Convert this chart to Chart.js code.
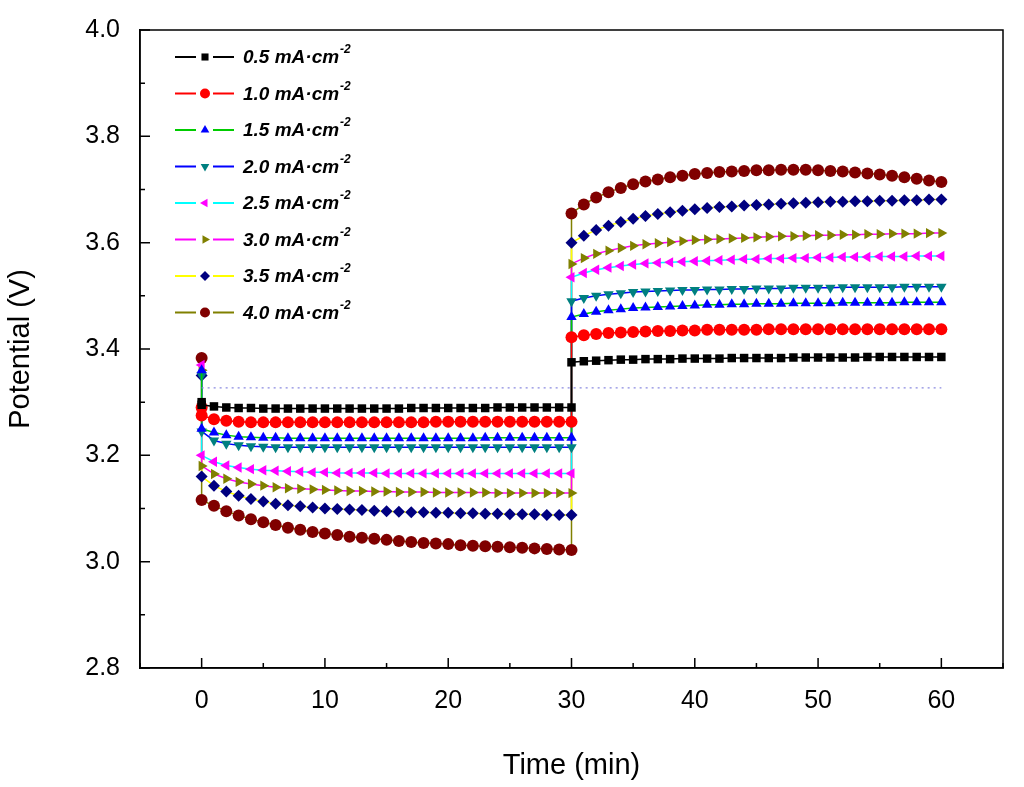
<!DOCTYPE html>
<html>
<head>
<meta charset="utf-8">
<script src="https://cdn.jsdelivr.net/npm/chart.js@4.4.1/dist/chart.umd.min.js"></script>
<style>
  body { margin: 0; background: #fff; }
  #wrap { width: 1024px; height: 787px; }
</style>
</head>
<body>
<div id="wrap"><canvas id="c"></canvas></div>
<script>
// --- datos ---
const labels = ['0.5', '1.0', '1.5', '2.0', '2.5', '3.0', '3.5', '4.0'];
const lineColors = ['#000000', '#ff0000', '#00cc00', '#0000ff', '#00ffff', '#ff00ff', '#ffff00', '#808000'];
const markColors = ['#000000', '#ff0000', '#0000ff', '#008080', '#ff00ff', '#808000', '#000080', '#800000'];
const markStyles = ['rect', 'circle', 'triangle', 'triangle', 'triangle', 'triangle', 'rectRot', 'circle'];
const markRot = [0, 0, 0, 180, -90, 90, 0, 0];

// t = 0..30 min (paso 1 min) y t = 30..60 min
const timeA = [0,1,2,3,4,5,6,7,8,9,10,11,12,13,14,15,16,17,18,19,20,21,22,23,24,25,26,27,28,29,30];
const timeB = [30,31,32,33,34,35,36,37,38,39,40,41,42,43,44,45,46,47,48,49,50,51,52,53,54,55,56,57,58,59,60];
const spike = [3.30, 3.29, 3.36, 3.35, 3.37, 3.36, 3.35, 3.383];

const s05a = [3.295,3.292,3.290,3.289,3.289,3.288,3.288,3.288,3.288,3.288,3.288,3.288,3.288,3.288,3.288,3.288,3.288,3.289,3.289,3.289,3.289,3.289,3.289,3.289,3.290,3.290,3.290,3.290,3.290,3.290,3.290];
const s05b = [3.375,3.377,3.378,3.379,3.380,3.380,3.381,3.381,3.381,3.382,3.382,3.382,3.382,3.383,3.383,3.383,3.383,3.383,3.384,3.384,3.384,3.384,3.384,3.384,3.385,3.385,3.385,3.385,3.385,3.385,3.385];
const s10a = [3.275,3.268,3.265,3.263,3.262,3.262,3.262,3.262,3.262,3.262,3.262,3.262,3.262,3.262,3.262,3.262,3.262,3.262,3.262,3.263,3.263,3.263,3.263,3.263,3.263,3.263,3.263,3.263,3.263,3.263,3.263];
const s10b = [3.422,3.426,3.428,3.430,3.431,3.432,3.433,3.434,3.434,3.435,3.435,3.436,3.436,3.436,3.436,3.436,3.437,3.437,3.437,3.437,3.437,3.437,3.437,3.437,3.437,3.437,3.437,3.437,3.437,3.437,3.437];
const s15a = [3.250,3.243,3.238,3.235,3.234,3.233,3.233,3.232,3.232,3.232,3.232,3.232,3.232,3.232,3.232,3.232,3.232,3.232,3.232,3.232,3.232,3.232,3.232,3.233,3.233,3.233,3.233,3.233,3.233,3.233,3.233];
const s15b = [3.460,3.466,3.470,3.473,3.475,3.477,3.478,3.479,3.480,3.481,3.482,3.483,3.483,3.484,3.484,3.485,3.485,3.485,3.486,3.486,3.486,3.486,3.487,3.487,3.487,3.487,3.487,3.488,3.488,3.488,3.488];
const s20a = [3.245,3.228,3.222,3.219,3.217,3.216,3.215,3.215,3.215,3.215,3.215,3.215,3.215,3.215,3.215,3.215,3.215,3.215,3.215,3.215,3.215,3.215,3.215,3.215,3.215,3.215,3.215,3.215,3.215,3.215,3.215];
const s20b = [3.490,3.496,3.500,3.503,3.505,3.507,3.508,3.509,3.510,3.511,3.511,3.512,3.512,3.513,3.513,3.514,3.514,3.514,3.515,3.515,3.515,3.515,3.516,3.516,3.516,3.516,3.516,3.517,3.517,3.517,3.517];
const s25a = [3.200,3.188,3.181,3.177,3.174,3.172,3.171,3.170,3.169,3.168,3.168,3.167,3.167,3.167,3.167,3.166,3.166,3.166,3.166,3.166,3.166,3.166,3.166,3.166,3.166,3.166,3.166,3.166,3.166,3.166,3.166];
const s25b = [3.535,3.543,3.549,3.553,3.556,3.559,3.561,3.562,3.563,3.564,3.565,3.566,3.567,3.568,3.569,3.569,3.570,3.570,3.571,3.571,3.572,3.572,3.573,3.573,3.573,3.574,3.574,3.574,3.575,3.575,3.575];
const s30a = [3.180,3.165,3.156,3.150,3.146,3.143,3.140,3.138,3.137,3.136,3.135,3.134,3.133,3.133,3.132,3.132,3.131,3.131,3.131,3.130,3.130,3.130,3.130,3.130,3.129,3.129,3.129,3.129,3.129,3.129,3.129];
const s30b = [3.560,3.571,3.579,3.585,3.590,3.594,3.597,3.599,3.601,3.603,3.605,3.606,3.607,3.608,3.609,3.610,3.611,3.612,3.612,3.613,3.614,3.614,3.615,3.615,3.616,3.616,3.617,3.617,3.617,3.618,3.618];
const s35a = [3.160,3.143,3.132,3.124,3.118,3.113,3.109,3.106,3.104,3.102,3.100,3.099,3.098,3.097,3.096,3.095,3.094,3.093,3.093,3.092,3.092,3.091,3.091,3.090,3.090,3.089,3.089,3.089,3.088,3.088,3.088];
const s35b = [3.600,3.613,3.624,3.632,3.639,3.645,3.650,3.654,3.657,3.660,3.663,3.665,3.667,3.668,3.670,3.671,3.672,3.673,3.674,3.675,3.676,3.677,3.677,3.678,3.678,3.679,3.679,3.680,3.680,3.681,3.681];
const s40a = [3.116,3.105,3.095,3.087,3.080,3.074,3.069,3.064,3.060,3.056,3.053,3.050,3.047,3.045,3.043,3.041,3.039,3.037,3.035,3.034,3.033,3.031,3.030,3.029,3.028,3.027,3.026,3.025,3.024,3.023,3.022];
const s40b = [3.655,3.672,3.685,3.695,3.703,3.710,3.715,3.719,3.723,3.726,3.729,3.731,3.733,3.734,3.735,3.736,3.736,3.737,3.737,3.737,3.736,3.735,3.734,3.732,3.730,3.728,3.726,3.723,3.720,3.717,3.714];

const seriesA = [s05a, s10a, s15a, s20a, s25a, s30a, s35a, s40a];
const seriesB = [s05b, s10b, s15b, s20b, s25b, s30b, s35b, s40b];
const refLevel = 3.327;
const xMajor = [0, 10, 20, 30, 40, 50, 60];
const xMinor = [-5, 5, 15, 25, 35, 45, 55, 65];
const yMajor = [2.8, 3.0, 3.2, 3.4, 3.6, 3.8, 4.0];
const yMinor = [2.9, 3.1, 3.3, 3.5, 3.7, 3.9];

const datasets = labels.map((lab, i) => {
    const pts = [{x: 0, y: spike[i]}];
    timeA.forEach((t, k) => pts.push({x: t, y: seriesA[i][k]}));
    timeB.forEach((t, k) => pts.push({x: t, y: seriesB[i][k]}));
    return {
        label: lab,
        data: pts,
        borderColor: lineColors[i],
        borderWidth: 1.5,
        pointStyle: markStyles[i],
        rotation: markRot[i],
        pointRadius: 6,
        pointBackgroundColor: markColors[i],
        pointBorderColor: markColors[i],
        pointBorderWidth: 0
    };
});
datasets.unshift({
    label: 'ref',
    data: [{x: 0, y: refLevel}, {x: 60, y: refLevel}],
    borderColor: '#8a8ae0',
    borderWidth: 1.2,
    borderDash: [2, 4],
    pointRadius: 0
});

// marco, marcas hacia dentro y leyenda
const framePlugin = {
    id: 'frame',
    afterDraw(chart) {
        const {ctx, chartArea: a, scales} = chart;
        ctx.save();
        ctx.strokeStyle = '#000';
        ctx.lineWidth = 1.5;
        ctx.strokeRect(a.left, a.top, a.right - a.left, a.bottom - a.top);
        ctx.beginPath();
        const tx = (v, len) => { const x = scales.x.getPixelForValue(v); ctx.moveTo(x, a.bottom); ctx.lineTo(x, a.bottom - len); };
        const ty = (v, len) => { const y = scales.y.getPixelForValue(v); ctx.moveTo(a.left, y); ctx.lineTo(a.left + len, y); };
        xMajor.forEach(v => tx(v, 10));
        xMinor.forEach(v => tx(v, 5));
        yMajor.forEach(v => ty(v, 10));
        yMinor.forEach(v => ty(v, 5));
        ctx.stroke();
        // leyenda
        labels.forEach((lab, i) => {
            const y = 57 + i * 36.5;
            ctx.strokeStyle = lineColors[i];
            ctx.lineWidth = 2;
            ctx.beginPath();
            ctx.moveTo(175, y); ctx.lineTo(196, y);
            ctx.moveTo(213, y); ctx.lineTo(234, y);
            ctx.stroke();
            ctx.fillStyle = markColors[i];
            ctx.strokeStyle = markColors[i];
            Chart.helpers.drawPoint(ctx, {pointStyle: markStyles[i], rotation: markRot[i], radius: 5, borderWidth: 0}, 205, y);
            ctx.fillStyle = '#000';
            ctx.font = 'italic bold 19px "Liberation Sans", Arial';
            ctx.textBaseline = 'middle';
            const txt = lab + ' mA\u00b7cm';
            ctx.fillText(txt, 243, y + 1);
            const w = ctx.measureText(txt).width;
            ctx.font = 'italic bold 12px "Liberation Sans", Arial';
            ctx.fillText('-2', 243 + w + 1, y - 7);
        });
        ctx.restore();
    }
};

new Chart(document.getElementById('c'), {
    type: 'line',
    data: { datasets },
    options: {
        responsive: true,
        maintainAspectRatio: false,
        animation: false,
        layout: { padding: { top: 30, right: 21, left: 0, bottom: 0 } },
        plugins: { legend: { display: false }, tooltip: { enabled: false } },
        scales: {
            x: {
                type: 'linear', min: -5, max: 65,
                afterFit: s => { s.height = 119; },
                afterBuildTicks: s => { s.ticks = xMajor.map(v => ({value: v})); },
                grid: { display: false },
                border: { color: '#000', width: 1.5 },
                ticks: { color: '#000', font: { size: 25, family: '"Liberation Sans", Arial' }, padding: 10 },
                title: { display: true, text: 'Time (min)', color: '#000', font: { size: 29, family: '"Liberation Sans", Arial' }, padding: { top: 20 } }
            },
            y: {
                type: 'linear', min: 2.8, max: 4.0,
                afterFit: s => { s.width = 140; },
                afterBuildTicks: s => { s.ticks = yMajor.map(v => ({value: v})); },
                grid: { display: false },
                border: { color: '#000', width: 1.5 },
                ticks: { color: '#000', font: { size: 25, family: '"Liberation Sans", Arial' }, padding: 12,
                         callback: v => v.toFixed(1) },
                title: { display: true, text: 'Potential (V)', color: '#000', font: { size: 29, family: '"Liberation Sans", Arial' }, padding: { bottom: 4 } }
            }
        }
    },
    plugins: [framePlugin]
});
</script>
</body>
</html>
